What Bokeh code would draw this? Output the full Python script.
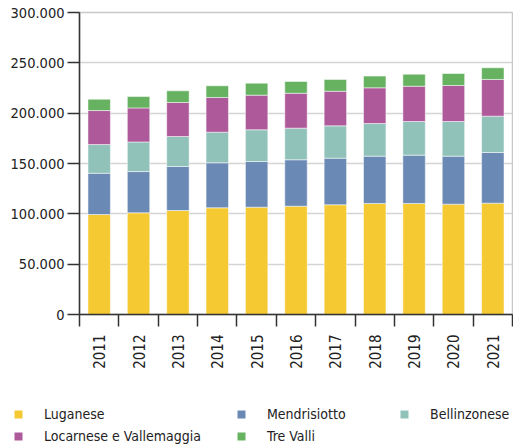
import math
from bokeh.plotting import figure
from bokeh.models import (ColumnDataSource, FixedTicker, Legend, LegendItem, Range1d)
from bokeh.embed import file_html
from bokeh.resources import INLINE

years = ["2011", "2012", "2013", "2014", "2015", "2016", "2017", "2018", "2019", "2020", "2021"]
luganese = [99300, 101000, 103300, 106000, 106600, 107600, 109000, 110300, 110300, 109600, 110600]
mendrisiotto = [41000, 41000, 43700, 44700, 45400, 46100, 46300, 47000, 48000, 47700, 50300]
bellinzonese = [28500, 29400, 29800, 30400, 31500, 31400, 32100, 32400, 33400, 34400, 36100]
locarnese = [33800, 33800, 33800, 34500, 34400, 34700, 34400, 35500, 35100, 35800, 36500]
tre_valli = [11200, 11300, 11600, 11600, 11900, 11700, 11700, 11600, 11900, 11900, 11600]

series_names = ["Luganese", "Mendrisiotto", "Bellinzonese", "Locarnese e Vallemaggia", "Tre Valli"]
series_keys = ["lug", "men", "bel", "loc", "tre"]
colors = ["#F4C932", "#6A89B4", "#90C2B9", "#AE5A9A", "#66B261"]

y_ticks = [0, 50000, 100000, 150000, 200000, 250000, 300000]
y_tick_labels = ["0", "50.000", "100.000", "150.000", "200.000", "250.000", "300.000"]

FONT = "DejaVu Sans Condensed, Roboto"

n = len(years)
centers = [i + 0.5 for i in range(n)]
bounds = [float(i) for i in range(n + 1)]

source = ColumnDataSource(dict(x=centers, lug=luganese, men=mendrisiotto, bel=bellinzonese,
                               loc=locarnese, tre=tre_valli))

p = figure(width=513, height=395, output_backend="svg", toolbar_location=None,
           x_range=Range1d(0, n), y_range=Range1d(0, 300000),
           min_border_left=79, min_border_right=1, min_border_top=12, min_border_bottom=81)

renderers = p.vbar_stack(series_keys, x="x", width=0.57, source=source, fill_color=colors,
                         line_color="white", line_alpha=0.5, line_width=1)

p.outline_line_color = "#c8c8c8"
p.outline_line_width = 1.5
p.xgrid.visible = False
p.ygrid.grid_line_color = "#d4d4d4"
p.ygrid.grid_line_width = 1.5
p.ygrid.ticker = FixedTicker(ticks=y_ticks)

# y axis
ya = p.yaxis[0]
ya.ticker = FixedTicker(ticks=y_ticks)
ya.major_label_overrides = {t: l for t, l in zip(y_ticks, y_tick_labels)}
ya.major_tick_out = 12
ya.major_tick_in = 0
ya.minor_tick_out = 0
ya.minor_tick_in = 0
ya.axis_line_color = "#333333"
ya.axis_line_width = 1.5
ya.major_tick_line_color = "#333333"
ya.major_tick_line_width = 1.5
ya.major_label_standoff = 3
ya.major_label_text_font = FONT
ya.major_label_text_font_size = "14.5px"
ya.major_label_text_color = "#222222"

# x axis
xa = p.xaxis[0]
xa.ticker = FixedTicker(ticks=centers, minor_ticks=bounds)
xa.major_label_overrides = {c: y for c, y in zip(centers, years)}
xa.major_tick_out = 0
xa.major_tick_in = 0
xa.minor_tick_out = 12
xa.minor_tick_in = 0
xa.minor_tick_line_color = "#333333"
xa.minor_tick_line_width = 1.5
xa.axis_line_color = "#333333"
xa.axis_line_width = 1.5
xa.major_label_orientation = math.pi / 2
xa.major_label_standoff = 8
xa.major_label_text_font = FONT
xa.major_label_text_font_size = "15px"
xa.major_label_text_color = "#222222"

# separate legend strip (own root, so its frame spans the full width)
p2 = figure(width=513, height=52, output_backend="svg", toolbar_location=None,
            x_range=Range1d(0, 1), y_range=Range1d(0, 1),
            x_axis_location=None, y_axis_location=None, min_border=0)
p2.grid.visible = False
p2.outline_line_color = None

proxies = [p2.vbar(x=[0], top=[0], bottom=[0], width=0, fill_color=c, line_color=None)
           for c in colors]


def make_legend(idxs, loc, orientation, ncols, label_width):
    items = [LegendItem(label=series_names[i], renderers=[proxies[i]]) for i in idxs]
    lg = Legend(items=items, location=loc, orientation=orientation, ncols=ncols,
                glyph_width=10, glyph_height=10, label_standoff=21,
                label_width=label_width, label_height=14, spacing=6,
                padding=0, margin=0,
                label_text_font=FONT, label_text_font_size="14px",
                label_text_color="#222222",
                border_line_alpha=0, background_fill_alpha=0)
    p2.add_layout(lg, "center")


make_legend([0, 3], (13, 3), "vertical", 1, 20)
make_legend([1, 2, 4], (236, 3), "horizontal", 2, 126)

open("out.html", "w").write(file_html([p, p2], INLINE))
